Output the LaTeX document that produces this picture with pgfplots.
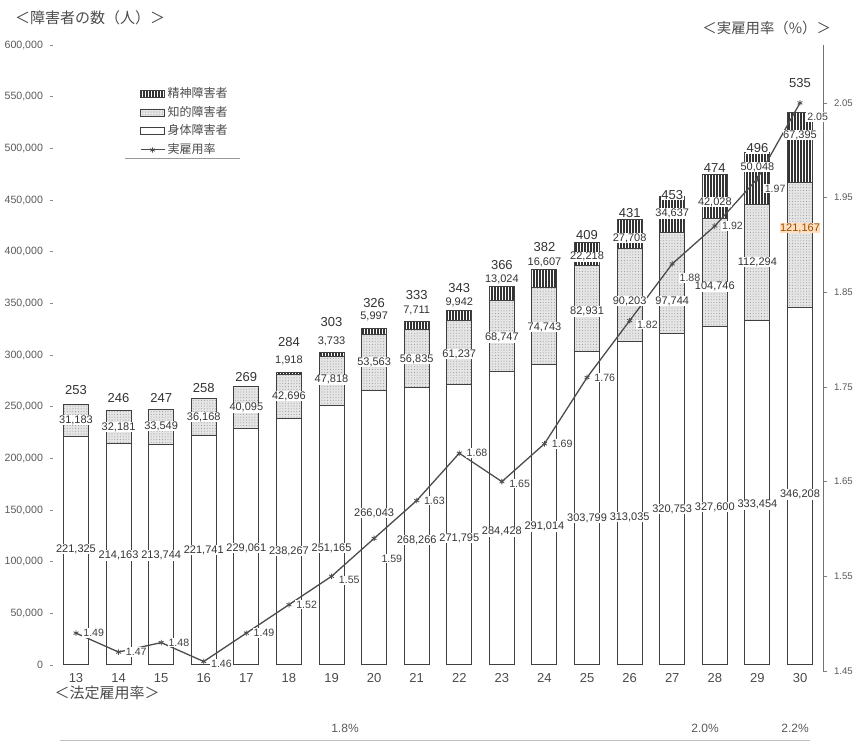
\documentclass[border=0pt]{standalone}
\usepackage{fontspec}
\setmainfont{Liberation Sans}
\newfontfamily\jp{Noto Sans CJK JP}
\usepackage{pgfplots}
\usepackage{pgfplotstable}
\pgfplotsset{compat=1.18}
\usetikzlibrary{patterns.meta}

\pgfkeys{/pgf/number format/.cd, fixed, precision=2, assume math mode=true, 1000 sep={,}}

% yr: fiscal year (Heisei); phys/intel/ment: employed persons by disability type;
% tot: total (thousands); rate: actual employment rate (%);
% rdy: rate-label shift (pt); ply/ily/mly/tly: label heights (thousands)
\pgfplotstableread{
yr phys intel ment tot rate rdy ply ily mly tly
13 221325 31183 0 253 1.49 0 112 237 0 266
14 214163 32181 0 246 1.47 0 106 230 0 258
15 213744 33549 0 247 1.48 0 106 231 0 258
16 221741 36168 0 258 1.46 -1 111 240 0 268
17 229061 40095 0 269 1.49 0 113 249 0 279
18 238267 42696 1918 284 1.52 0 110 260 295 313
19 251165 47818 3733 303 1.55 -2 113 276 313 332
20 266043 53563 5997 326 1.59 -10 147 293 337 350
21 268266 56835 7711 333 1.63 0 121 296 343 358
22 271795 61237 9942 343 1.68 0 123 301 351 365
23 284428 68747 13024 366 1.65 -1 129 317 373 387
24 291014 74743 16607 382 1.69 0 134 327 390 404
25 303799 82931 22218 409 1.76 0 142 342 395 416
26 313035 90203 27708 431 1.82 -2 143 352 413 437
27 320753 97744 34637 453 1.88 -7 151 352 437 455
28 327600 104746 42028 474 1.92 0 153 366 448 481
29 333454 112294 50048 496 1.97 -5 155 390 482 500
30 346208 121167 67395 535 2.05 -7 165 423 513 563
}\data

\tikzset{
  vlab/.style={font=\fontsize{5.5}{6}\selectfont, text=black!80, fill=white, inner sep=0.3pt},
  hlab/.style={vlab, fill=orange!25, text=orange!60!black},
  tlab/.style={font=\fontsize{6.5}{7}\selectfont, text=black!80, fill=white, inner sep=0.3pt},
  stripes/.style={postaction={pattern={Lines[angle=90,distance=1.5pt,line width=0.55pt]}, pattern color=black!80}},
  stipple/.style={postaction={pattern={Dots[distance=1.4pt,radius=0.26pt]}, pattern color=black!40}},
}

\pgfplotsset{
  base/.style={at={(25pt,35.5pt)}, anchor=south west, scale only axis,
    width=386.5pt, height=313pt, xmin=12.39, xmax=30.54, clip=false},
}

\begin{document}
\begin{tikzpicture}[x=0.5pt,y=0.5pt]
\path[use as bounding box] (0,0) rectangle (857,742);

% stacked bars, left axis
\begin{axis}[base,
  ymin=-5806, ymax=600000,
  ybar stacked, bar width=12.5pt,
  axis x line*=bottom, axis y line*=left,
  axis line style={draw=none},
  xtick={13,...,30}, x tick style={draw=none},
  xticklabel style={font=\fontsize{6.5}{7}\selectfont, text=black!70, anchor=north, inner sep=0pt, yshift=-1pt},
  ytick={0,50000,100000,150000,200000,250000,300000,350000,400000,450000,500000,550000,600000},
  y tick style={draw=black!45, line width=0.4pt}, major tick length=1.5pt, tick align=inside,
  scaled y ticks=false,
  yticklabel style={font=\fontsize{5.3}{6}\selectfont, text=black!65, /pgf/number format/fixed},
  legend style={at={(0.116,0.935)}, anchor=north west, draw=none, fill=none,
    font=\jp\fontsize{6}{7}\selectfont, text=black!70, row sep=1.6pt,
    inner sep=0pt, nodes={inner xsep=1.3pt, inner ysep=0.6pt}, cells={anchor=west}},
]
\addplot[forget plot, fill=white, draw=black!75, line width=0.5pt] table[x=yr,y=phys]{\data};
\addplot[forget plot, fill=black!10, draw=black!75, line width=0.5pt, stipple] table[x=yr,y=intel]{\data};
\addplot[forget plot, fill=white, draw=black!75, line width=0.5pt, stripes] table[x=yr,y=ment]{\data};

\addlegendimage{legend image code/.code={\draw[draw=black!75, fill=white, line width=0.4pt, stripes] (0pt,-1.8pt) rectangle (12pt,1.8pt);}}
\addlegendentry{精神障害者}
\addlegendimage{legend image code/.code={\draw[draw=black!75, fill=black!10, line width=0.4pt, stipple] (0pt,-1.8pt) rectangle (12pt,1.8pt);}}
\addlegendentry{知的障害者}
\addlegendimage{legend image code/.code={\draw[draw=black!75, fill=white, line width=0.4pt] (0pt,-1.8pt) rectangle (12pt,1.8pt);}}
\addlegendentry{身体障害者}
\addlegendimage{legend image code/.code={\draw[black!70, line width=0.5pt] (0pt,0pt) -- (12pt,0pt);
  \draw[black!70, line width=0.4pt] plot[mark=asterisk, mark size=1.3pt, only marks] coordinates {(6pt,0pt)};}}
\addlegendentry{実雇用率}
\end{axis}

% employment rate, right axis
\begin{axis}[base,
  ymin=1.45, ymax=2.1112,
  axis y line*=right, axis x line=none,
  y axis line style={draw=black!55, line width=0.5pt},
  ytick={1.45,1.55,1.65,1.75,1.85,1.95,2.05},
  yticklabel style={font=\fontsize{4.8}{5}\selectfont, text=black!65,
    /pgf/number format/.cd, fixed, fixed zerofill, precision=2},
  tick align=outside, major tick length=2pt, y tick style={draw=black!50, line width=0.4pt},
]
\addplot[black!70, line width=0.65pt, mark=asterisk, mark size=1.4pt,
  mark options={solid, line width=0.4pt},
  visualization depends on={\thisrow{rdy} \as \rdy},
  nodes near coords={\pgfmathprintnumber[fixed,fixed zerofill,precision=2]{\pgfplotspointmeta}},
  every node near coord/.append style={anchor=west, xshift=3pt, yshift=\rdy pt,
    fill=white, inner sep=0.5pt, font=\fontsize{5.3}{6}\selectfont, text=black!75},
] table[x=yr, y=rate]{\data};
\end{axis}

% value labels (heights in thousands)
\begin{axis}[base, ymin=-5.806, ymax=600, hide axis]
\pgfplotsforeachungrouped \i in {0,...,17}{%
  \pgfplotstablegetelem{\i}{yr}\of\data \let\yr\pgfplotsretval
  \pgfplotstablegetelem{\i}{phys}\of\data \let\vph\pgfplotsretval
  \pgfplotstablegetelem{\i}{intel}\of\data \let\vin\pgfplotsretval
  \pgfplotstablegetelem{\i}{ment}\of\data \let\vmn\pgfplotsretval
  \pgfplotstablegetelem{\i}{tot}\of\data \let\vtot\pgfplotsretval
  \pgfplotstablegetelem{\i}{ply}\of\data \let\yph\pgfplotsretval
  \pgfplotstablegetelem{\i}{ily}\of\data \let\yin\pgfplotsretval
  \pgfplotstablegetelem{\i}{mly}\of\data \let\ymn\pgfplotsretval
  \pgfplotstablegetelem{\i}{tly}\of\data \let\ytot\pgfplotsretval
  \ifnum\yr=30 \def\istyle{hlab}\else\def\istyle{vlab}\fi
  \edef\tmp{%
    \noexpand\node[vlab] at (axis cs:\yr,\yph) {\noexpand\pgfmathprintnumber[fixed,precision=0]{\vph}};
    \noexpand\node[\istyle] at (axis cs:\yr,\yin) {\noexpand\pgfmathprintnumber[fixed,precision=0]{\vin}};
    \noexpand\node[tlab] at (axis cs:\yr,\ytot) {\vtot};
  }\tmp
  \ifnum\vmn>0
    \edef\tmp{\noexpand\node[vlab] at (axis cs:\yr,\ymn) {\noexpand\pgfmathprintnumber[fixed,precision=0]{\vmn}};}\tmp
  \fi
}
\end{axis}

% titles and notes
\draw[black!40, line width=0.4pt] (125,584) -- (240,584);
\node[anchor=west, font=\jp\fontsize{7.5}{8}\selectfont, text=black!70] at (8,724) {＜障害者の数（人）＞};
\node[anchor=east, font=\jp\fontsize{7.2}{8}\selectfont, text=black!70] at (838,714) {＜実雇用率（\%）＞};
\node[font=\jp\fontsize{7.5}{8}\selectfont, text=black!70] at (107,49) {＜法定雇用率＞};
\node[font=\fontsize{6}{7}\selectfont, text=black!65] at (345,14) {1.8\%};
\node[font=\fontsize{6}{7}\selectfont, text=black!65] at (705,14) {2.0\%};
\node[font=\fontsize{6}{7}\selectfont, text=black!65] at (795,14) {2.2\%};
\draw[black!25, line width=0.4pt] (60,2) -- (810,2);
\end{tikzpicture}
\end{document}
